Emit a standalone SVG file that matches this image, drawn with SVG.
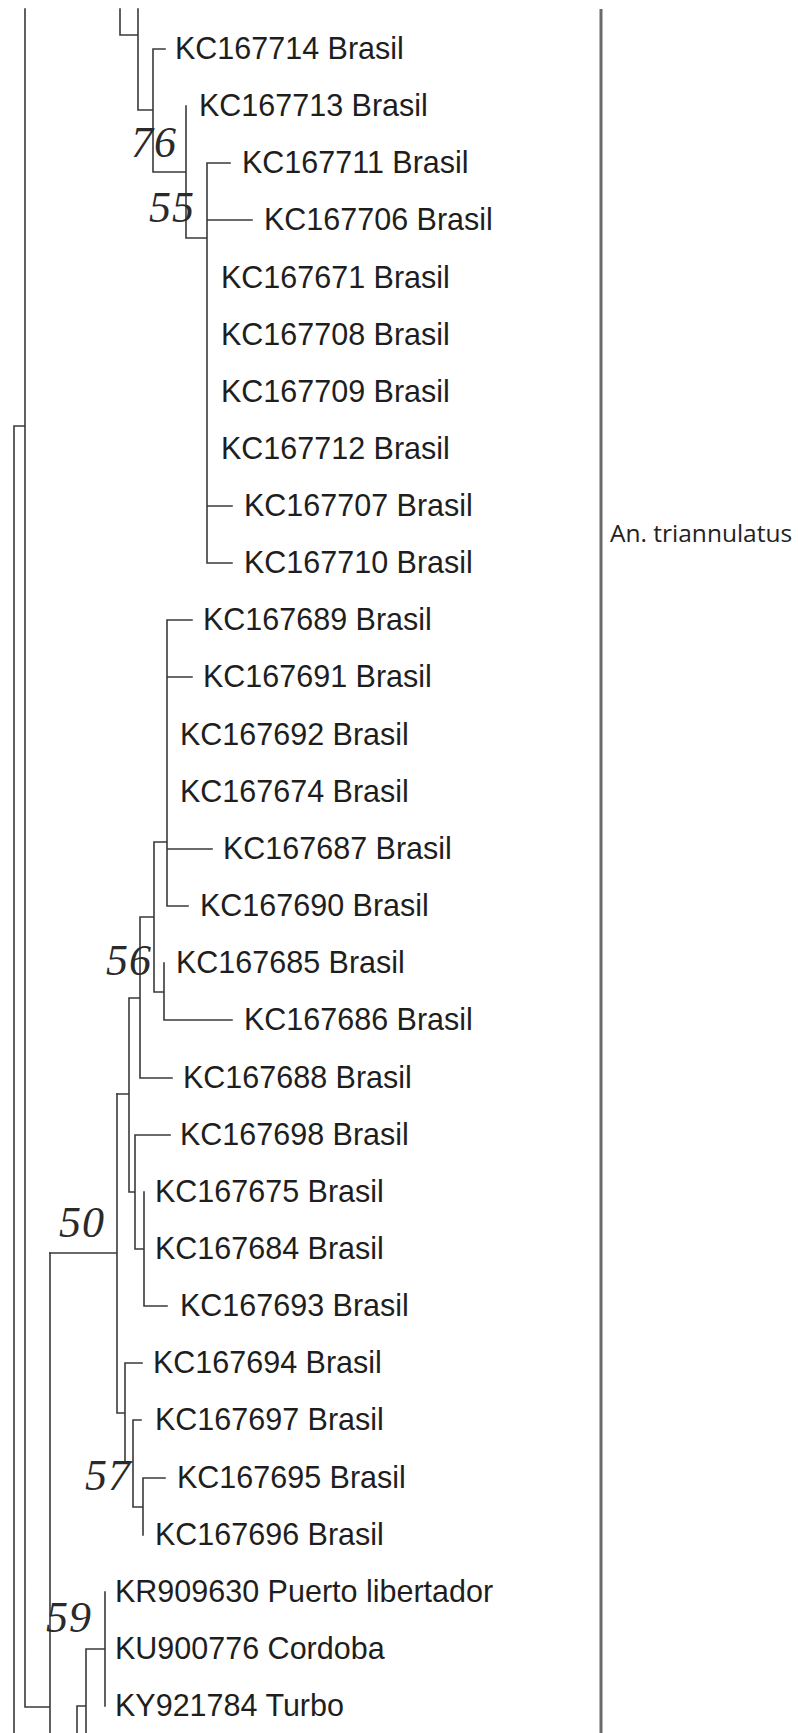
<svg xmlns="http://www.w3.org/2000/svg" width="798" height="1733" viewBox="0 0 798 1733">
<style>
.br{fill:none;stroke:#3a3a3a;stroke-width:1.6;stroke-linecap:square}
.lf{font-family:"Liberation Sans",Arial,sans-serif;font-size:30.5px;fill:#1e1e1e}
.bs{font-family:"Liberation Serif","Times New Roman",serif;font-style:italic;font-size:44px;fill:#2a2a2a;letter-spacing:1px}
.grp{font-family:"Open Sans","DejaVu Sans",sans-serif;font-size:24.5px;fill:#222}
</style>
<rect width="798" height="1733" fill="#fff"/>
<g id="connectors">
<path class="br" d="M120 9V35H138M138 9V110H153M153 49H165M153 49V172H186M186 106V238H207M207 163V563M207 163H230M207 220H252M207 506H232M207 563H232"/>
<path class="br" d="M167 620V906M167 620H192M167 677H192M167 849H212M167 906H188M154 842H167M154 842V992H164M140 917H154M164 963V1020H232M140 917V1078H172M129 998H140M129 998V1192H135M117 1094H129M135 1135H170M135 1135V1249H144M144 1192V1306H167"/>
<path class="br" d="M117 1094V1413H125M50 1253H117M125 1363H142M125 1363V1462H133M133 1420H141M133 1420V1507H143M143 1478H165M143 1478V1535"/>
<path class="br" d="M105 1592V1706M86 1649H105M86 1649V1733M77 1706H86M77 1706V1733M50 1253V1733M25 9V1707H50M14 426H25M14 426V1733"/>
<path d="M601 9V1733" fill="none" stroke="#6a6a6a" stroke-width="3"/>
</g>
<g id="bootstrap">
<text id="bs76" class="bs" x="131" y="157">76</text>
<text id="bs55" class="bs" x="149" y="222">55</text>
<text id="bs56" class="bs" x="106" y="975">56</text>
<text id="bs50" class="bs" x="59" y="1237">50</text>
<text id="bs57" class="bs" x="85" y="1490">57</text>
<text id="bs59" class="bs" x="46" y="1632">59</text>
</g>
<g id="n0"><text class="lf" x="175" y="59">KC167714 Brasil</text></g>
<g id="n1"><text class="lf" x="199" y="116">KC167713 Brasil</text></g>
<g id="n2"><text class="lf" x="242" y="173">KC167711 Brasil</text></g>
<g id="n3"><text class="lf" x="264" y="230">KC167706 Brasil</text></g>
<g id="n4"><text class="lf" x="221" y="288">KC167671 Brasil</text></g>
<g id="n5"><text class="lf" x="221" y="345">KC167708 Brasil</text></g>
<g id="n6"><text class="lf" x="221" y="402">KC167709 Brasil</text></g>
<g id="n7"><text class="lf" x="221" y="459">KC167712 Brasil</text></g>
<g id="n8"><text class="lf" x="244" y="516">KC167707 Brasil</text></g>
<g id="n9"><text class="lf" x="244" y="573">KC167710 Brasil</text></g>
<g id="n10"><text class="lf" x="203" y="630">KC167689 Brasil</text></g>
<g id="n11"><text class="lf" x="203" y="687">KC167691 Brasil</text></g>
<g id="n12"><text class="lf" x="180" y="745">KC167692 Brasil</text></g>
<g id="n13"><text class="lf" x="180" y="802">KC167674 Brasil</text></g>
<g id="n14"><text class="lf" x="223" y="859">KC167687 Brasil</text></g>
<g id="n15"><text class="lf" x="200" y="916">KC167690 Brasil</text></g>
<g id="n16"><text class="lf" x="176" y="973">KC167685 Brasil</text></g>
<g id="n17"><text class="lf" x="244" y="1030">KC167686 Brasil</text></g>
<g id="n18"><text class="lf" x="183" y="1088">KC167688 Brasil</text></g>
<g id="n19"><text class="lf" x="180" y="1145">KC167698 Brasil</text></g>
<g id="n20"><text class="lf" x="155" y="1202">KC167675 Brasil</text></g>
<g id="n21"><text class="lf" x="155" y="1259">KC167684 Brasil</text></g>
<g id="n22"><text class="lf" x="180" y="1316">KC167693 Brasil</text></g>
<g id="n23"><text class="lf" x="153" y="1373">KC167694 Brasil</text></g>
<g id="n24"><text class="lf" x="155" y="1430">KC167697 Brasil</text></g>
<g id="n25"><text class="lf" x="177" y="1488">KC167695 Brasil</text></g>
<g id="n26"><text class="lf" x="155" y="1545">KC167696 Brasil</text></g>
<g id="n27"><text class="lf" x="115" y="1602">KR909630 Puerto libertador</text></g>
<g id="n28"><text class="lf" x="115" y="1659">KU900776 Cordoba</text></g>
<g id="n29"><text class="lf" x="115" y="1716">KY921784 Turbo</text></g>
<g id="group-label"><text class="grp" x="610" y="542">An. triannulatus</text></g>
</svg>
